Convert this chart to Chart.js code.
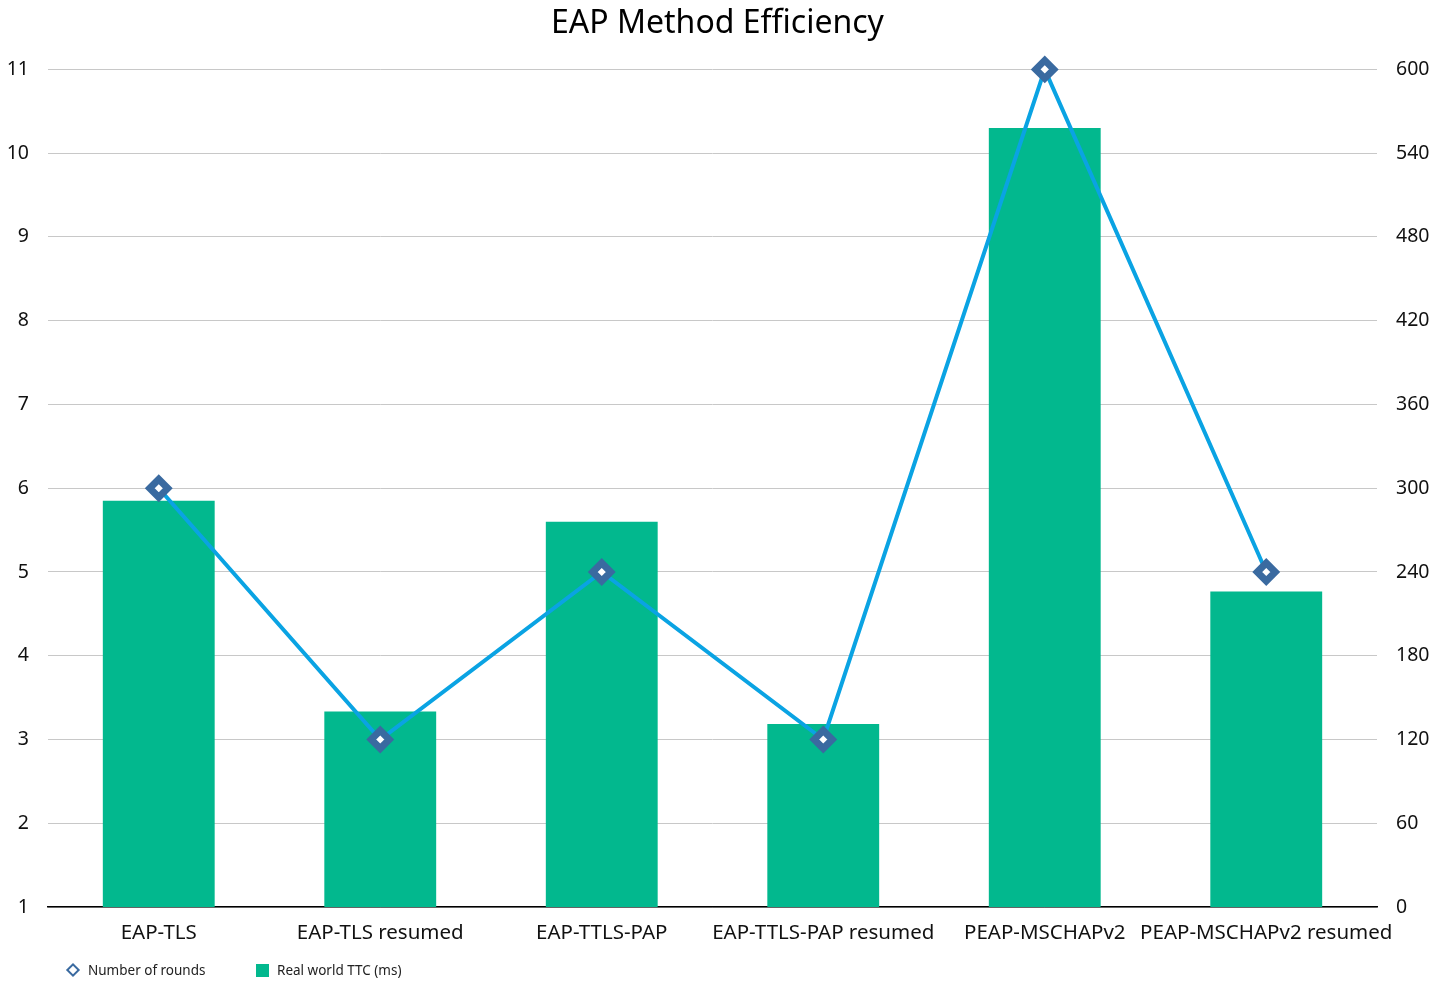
<!DOCTYPE html>
<html>
<head>
<meta charset="utf-8">
<title>EAP Method Efficiency</title>
<script src="https://cdn.jsdelivr.net/npm/chart.js@4/dist/chart.umd.min.js"></script>
<style>
  html, body { margin: 0; padding: 0; background: #fff; overflow: hidden; }
  #wrap { position: relative; width: 1435px; height: 981px; }
  #legend {
    position: absolute; left: 0; top: 960px; height: 20px; width: 600px;
    font-family: "Noto Sans", "Open Sans", sans-serif; font-size: 13.5px; color: #222;
  }
  .item { position: absolute; top: 0; line-height: 20px; white-space: nowrap; }
  .diamond {
    position: absolute; top: 5px; width: 6px; height: 6px;
    border: 2px solid #3a6aa0; background: #fff; transform: rotate(45deg);
  }
  .square { position: absolute; top: 4px; width: 13px; height: 13px; background: #02b88e; }
</style>
</head>
<body>
<div id="wrap">
  <canvas id="chart"></canvas>
  <div id="legend">
    <span class="diamond" style="left:68px"></span>
    <span class="item" style="left:88px">Number of rounds</span>
    <span class="square" style="left:256px"></span>
    <span class="item" style="left:277px">Real world TTC (ms)</span>
  </div>
</div>
<script>
// data
const methods = ['EAP-TLS', 'EAP-TLS resumed', 'EAP-TTLS-PAP', 'EAP-TTLS-PAP resumed', 'PEAP-MSCHAPv2', 'PEAP-MSCHAPv2 resumed'];
const rounds = [6, 3, 5, 3, 11, 5];
const ttcMs = [291, 140, 276, 131, 558, 226];

const FONT = '"Noto Sans", "Open Sans", sans-serif';
const MARKER = '#3a6aa0';

const chart = new Chart(document.getElementById('chart'), {
  data: {
    labels: methods,
    datasets: [
      {
        type: 'line',
        label: 'Number of rounds',
        data: rounds,
        yAxisID: 'y',
        borderColor: '#0aa3e3',
        borderWidth: 4,
        pointStyle: 'rectRot',
        pointRadius: 9,
        pointHoverRadius: 9,
        pointBackgroundColor: '#ffffff',
        pointBorderColor: MARKER,
        pointBorderWidth: 7,
        tension: 0,
        clip: false,
        order: 0
      },
      {
        type: 'bar',
        label: 'Real world TTC (ms)',
        data: ttcMs,
        yAxisID: 'y1',
        backgroundColor: '#02b88e',
        barPercentage: 0.505,
        categoryPercentage: 1,
        order: 1
      }
    ]
  },
  options: {
    responsive: true,
    maintainAspectRatio: false,
    animation: false,
    layout: { padding: 0 },
    plugins: {
      title: {
        display: true,
        text: 'EAP Method Efficiency',
        color: '#000',
        font: { family: FONT, size: 32, weight: 'normal' },
        padding: { top: 5, bottom: 26 }
      },
      legend: { display: false },
      tooltip: { enabled: false }
    },
    scales: {
      x: {
        grid: { display: false, drawTicks: false },
        border: { color: '#000', width: 1.5 },
        ticks: { color: '#111', font: { family: FONT, size: 20.5 }, padding: 14, maxRotation: 0, autoSkip: false },
        afterFit: (axis) => { axis.height = 74; }
      },
      y: {
        position: 'left',
        min: 1,
        max: 11,
        grid: { color: '#c8c8c8', drawTicks: false },
        border: { display: false },
        ticks: { stepSize: 1, color: '#111', font: { family: FONT, size: 19.5 }, padding: 19 },
        afterFit: (axis) => { axis.width = 48; }
      },
      y1: {
        position: 'right',
        min: 0,
        max: 600,
        grid: { display: false, drawTicks: false },
        border: { display: false },
        ticks: { stepSize: 60, color: '#111', font: { family: FONT, size: 19.5 }, padding: 19 },
        afterFit: (axis) => { axis.width = 58; }
      }
    }
  }
});
</script>
</body>
</html>
